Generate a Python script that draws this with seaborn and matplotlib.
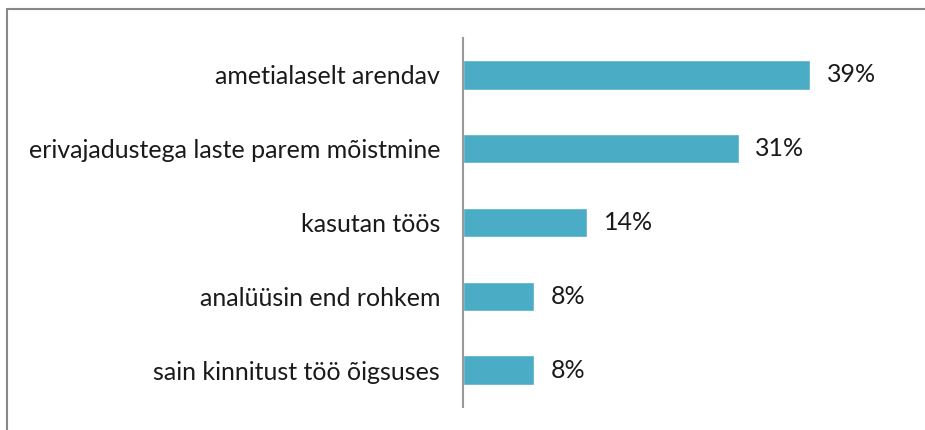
import matplotlib
matplotlib.use("Agg")
import matplotlib.pyplot as plt
from matplotlib.lines import Line2D
import seaborn as sns
import pandas as pd

categories = ["ametialaselt arendav", "erivajadustega laste parem mõistmine",
              "kasutan töös", "analüüsin end rohkem", "sain kinnitust töö õigsuses"]
values = [39, 31, 14, 8, 8]

sns.set_style("white")
plt.rcParams['font.family'] = ['Lato', 'DejaVu Sans']

df = pd.DataFrame({"category": categories, "value": values})

W, H = 925, 430
fig = plt.figure(figsize=(W / 100, H / 100), dpi=100)
ax = fig.add_axes([463 / W, 23 / H, 400 / W, 369 / H])

sns.barplot(data=df, y="category", x="value", orient="h", color="#4BACC6",
            saturation=1, width=0.4, ax=ax)

ax.set_xlim(0, 45)
ax.set_ylim(4.5, -0.5)
ax.set_xlabel("")
ax.set_ylabel("")
ax.set_xticks([])
for s in ["top", "right", "bottom"]:
    ax.spines[s].set_visible(False)
ax.spines["left"].set_color("#999999")
ax.spines["left"].set_linewidth(1.5)
ax.tick_params(axis="y", length=0, pad=16.5, labelsize=18, labelcolor="#1a1a1a")

for i, v in enumerate(values):
    ax.text(v + 1.9, i, f"{v}%", va="center", ha="left", fontsize=18, color="#1a1a1a")

# outer chart border (only top and left visible in the crop)
fig.add_artist(Line2D([6.5 / W, 6.5 / W], [0, 1 - 8.5 / H], transform=fig.transFigure,
                      color="#888888", linewidth=1.5))
fig.add_artist(Line2D([6.5 / W, 1], [1 - 8.5 / H, 1 - 8.5 / H], transform=fig.transFigure,
                      color="#888888", linewidth=1.5))

fig.savefig("out.png", dpi=100)
